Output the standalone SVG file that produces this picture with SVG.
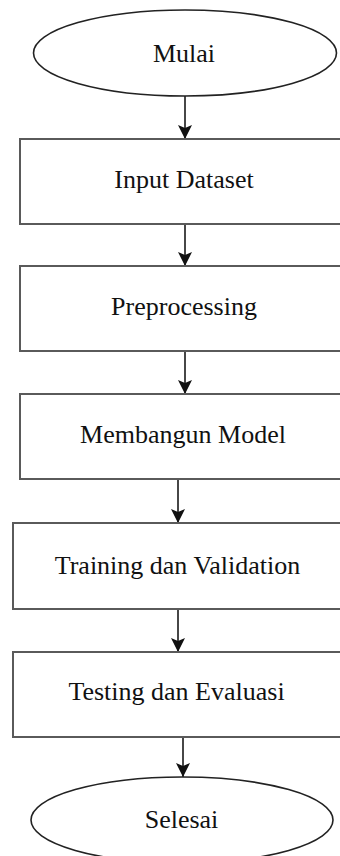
<svg xmlns="http://www.w3.org/2000/svg" width="340" height="856" viewBox="0 0 340 856">
<defs>
<style>
.term{fill:#fff;stroke:#222;stroke-width:1.6}
.proc{fill:#fff;stroke:#5a5a5a;stroke-width:2}
.lbl{font-family:"Liberation Serif","Times New Roman",serif;font-size:26px;fill:#111;text-anchor:middle}
.conn{stroke:#333;stroke-width:1.8;fill:none;marker-end:url(#ah)}
</style>
<marker id="ah" markerUnits="userSpaceOnUse" markerWidth="16" markerHeight="14" viewBox="0 0 16 14" refX="15" refY="7" orient="auto">
<path d="M1,0 L4,7 L1,14 L15,7 Z" fill="#111"/>
</marker>
</defs>
<g id="connectors">
<line class="conn" x1="185" y1="96" x2="185" y2="139"/>
<line class="conn" x1="185" y1="224" x2="185" y2="266"/>
<line class="conn" x1="185" y1="351" x2="185" y2="394"/>
<line class="conn" x1="178" y1="479" x2="178" y2="523"/>
<line class="conn" x1="178" y1="609" x2="178" y2="652"/>
<line class="conn" x1="183" y1="737" x2="183" y2="777"/>
</g>
<g id="mulai">
<ellipse class="term" cx="185" cy="53" rx="151.5" ry="43"/>
<text class="lbl" x="184" y="62">Mulai</text>
</g>
<g id="input-dataset">
<rect class="proc" x="20" y="139" width="330" height="85"/>
<text class="lbl" x="184" y="188">Input Dataset</text>
</g>
<g id="preprocessing">
<rect class="proc" x="20" y="266" width="330" height="85"/>
<text class="lbl" x="184" y="315">Preprocessing</text>
</g>
<g id="membangun-model">
<rect class="proc" x="20" y="394" width="330" height="85"/>
<text class="lbl" x="183" y="443">Membangun Model</text>
</g>
<g id="training">
<rect class="proc" x="13" y="523" width="335" height="86"/>
<text class="lbl" x="177.5" y="574">Training dan Validation</text>
</g>
<g id="testing">
<rect class="proc" x="13" y="652" width="335" height="85"/>
<text class="lbl" x="176.5" y="700">Testing dan Evaluasi</text>
</g>
<g id="selesai">
<ellipse class="term" cx="182" cy="820" rx="151" ry="43"/>
<text class="lbl" x="181.5" y="828">Selesai</text>
</g>
</svg>
